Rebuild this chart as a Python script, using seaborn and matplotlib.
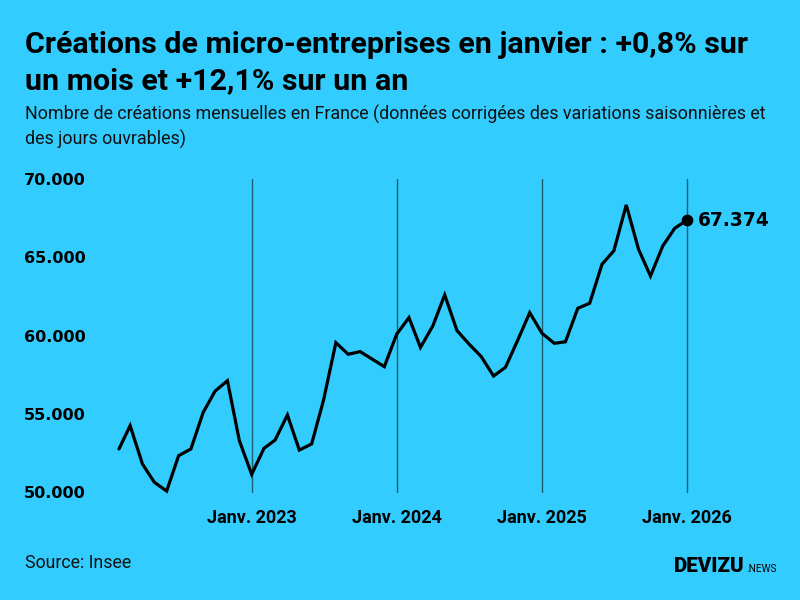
import matplotlib
matplotlib.use("Agg")
import matplotlib.pyplot as plt
import seaborn as sns
import pandas as pd

# ---- data ----
start_month = "2022-02-01"
values = [52750, 54240, 51790, 50620, 50060, 52320, 52750, 55090, 56450, 57110, 53280,
          51130, 52790, 53320, 54920, 52680, 53070, 55880, 59540, 58800, 58970, 58480, 58010,
          60080, 61140, 59240, 60610, 62590, 60310, 59460, 58650, 57410, 57970, 59710, 61460,
          60140, 59500, 59600, 61740, 62060, 64550, 65420, 68340, 65510, 63800, 65720, 66850,
          67374]
tick_dates = ["2023-01-01", "2024-01-01", "2025-01-01", "2026-01-01"]
tick_labels = ["Janv. 2023", "Janv. 2024", "Janv. 2025", "Janv. 2026"]
y_ticks = [50000, 55000, 60000, 65000, 70000]

title = "Créations de micro-entreprises en janvier : +0,8% sur\nun mois et +12,1% sur un an"
subtitle = ("Nombre de créations mensuelles en France (données corrigées des variations saisonnières et\n"
            "des jours ouvrables)")
source = "Source: Insee"

dates = pd.date_range(start_month, periods=len(values), freq="MS")
df = pd.DataFrame({"date": dates, "value": values})

BG = "#33ccff"
sns.set_style("white")
plt.rcParams["font.family"] = ["Roboto", "DejaVu Sans"]

fig = plt.figure(figsize=(8, 6), dpi=100, facecolor=BG)
ax = fig.add_axes([119 / 800, 1 - 492 / 600, (687 - 119) / 800, 313 / 600])
ax.set_facecolor(BG)

for d in tick_dates:
    ax.axvline(pd.Timestamp(d), color="#1d5d70", lw=1.0, zorder=1, clip_on=False)

sns.lineplot(data=df, x="date", y="value", ax=ax, color="black", lw=2.3, zorder=3)
for ln in ax.lines:
    ln.set_clip_on(False)
    ln.set_solid_joinstyle("miter")
ax.scatter([dates[-1]], [values[-1]], s=55, color="black", zorder=4, clip_on=False)
ax.annotate(f"{values[-1]:,}".replace(",", "."), (dates[-1], values[-1]),
            xytext=(7.5, 0), textcoords="offset points", va="center", ha="left",
            fontsize=13.4, fontweight="bold", family="DejaVu Sans", color="black",
            annotation_clip=False)

ax.set_xlim(dates[0], dates[-1])
ax.set_ylim(50000, 70000)
ax.set_yticks(y_ticks)
ax.set_yticklabels([f"{v:,}".replace(",", ".") for v in y_ticks], fontsize=11.5,
                   fontweight="bold", family="DejaVu Sans", color="black")
ax.set_xticks([pd.Timestamp(d) for d in tick_dates])
ax.set_xticklabels(tick_labels, fontsize=13, fontweight="bold", color="black")
ax.tick_params(axis="y", length=0, pad=24)
ax.tick_params(axis="x", length=0, pad=12)
ax.set_xlabel("")
ax.set_ylabel("")
for s in ax.spines.values():
    s.set_visible(False)
ax.grid(False)

fig.text(25 / 800, 1 - 31 / 600, title, fontsize=21.9, fontweight="bold", va="top", ha="left",
         linespacing=1.38, color="black")
fig.text(25 / 800, 1 - 105 / 600, subtitle, fontsize=12.9, va="top", ha="left",
         linespacing=1.38, color="#111111")
fig.text(25 / 800, 1 - 563 / 600, source, fontsize=12.8, va="center", ha="left", color="#111111")
fig.text(674 / 800, 1 - 572 / 600, "DEVIZU", fontsize=14.8, fontweight="black", va="baseline",
         ha="left", color="black")
fig.text(746 / 800, 1 - 572 / 600, ".NEWS", fontsize=7.2, va="baseline", ha="left", color="black")

fig.savefig("out.png", dpi=100, facecolor=BG)
